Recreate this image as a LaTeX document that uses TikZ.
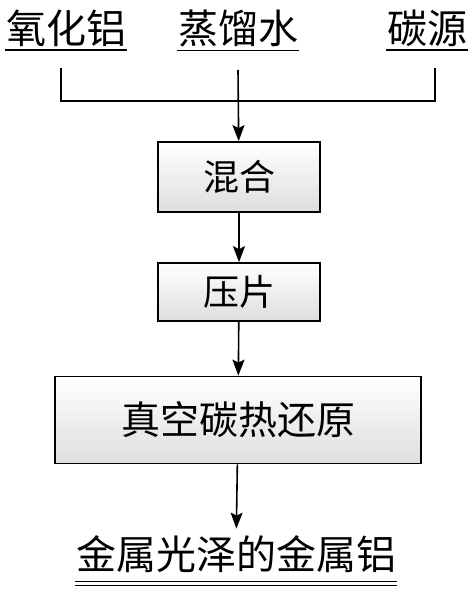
\documentclass[tikz,border=0pt]{standalone}
\usepackage{fontspec}
\newfontfamily\cjk{Noto Sans CJK SC}
\usetikzlibrary{arrows.meta,calc,positioning}

\begin{document}
\begin{tikzpicture}[x=1pt,y=-1pt,line width=1.6pt,>={Stealth[length=16pt,width=12pt,inset=3pt]},
  stepbox/.style={draw,line width=1.7pt,top color=white,bottom color=black!13,inner sep=0pt,font=\cjk\fontsize{36}{40}\selectfont},
  lbl/.style={inner sep=0pt,font=\cjk\fontsize{40}{44}\selectfont}]
  \useasboundingbox (0,0) rectangle (474,594);
  % raw materials
  \node[lbl] (alu) at (66,28) {氧化铝};
  \node[lbl] (water) at (238,28) {蒸馏水};
  \node[lbl] (carb) at (427,28) {碳源};
  \foreach \n in {alu,water,carb}
    \draw ($(\n.south west)+(0,3)$) -- ($(\n.south east)+(0,3)$);
  \coordinate (la) at (61,68);
  \coordinate (lw) at (238,70);
  \coordinate (lc) at (435,68);
  \coordinate (jn) at (238,101);
  \draw (la) |- (jn) -| (lc);
  % process steps
  \node[stepbox,minimum width=162pt,minimum height=70pt] (mix) at (239,177) {混合};
  \node[stepbox,minimum width=162pt,minimum height=58pt] (press) at (239,292) {压片};
  \node[stepbox,minimum width=366pt,minimum height=87pt,font=\cjk\fontsize{39}{42}\selectfont] (vac) at (238,420) {真空碳热还原};
  \draw[->] (lw) -- (mix);
  \draw[->] (mix) -- (press);
  \draw[->] (press) -- (vac);
  % product
  \node[lbl] (prod) at (236,554) {金属光泽的金属铝};
  \draw[->,shorten >=6pt] (vac) -- (prod);
  \draw ($(prod.south west)+(0,8)$) -- ($(prod.south east)+(0,8)$);
  \draw ($(prod.south west)+(0,12)$) -- ($(prod.south east)+(0,12)$);
\end{tikzpicture}
\end{document}
